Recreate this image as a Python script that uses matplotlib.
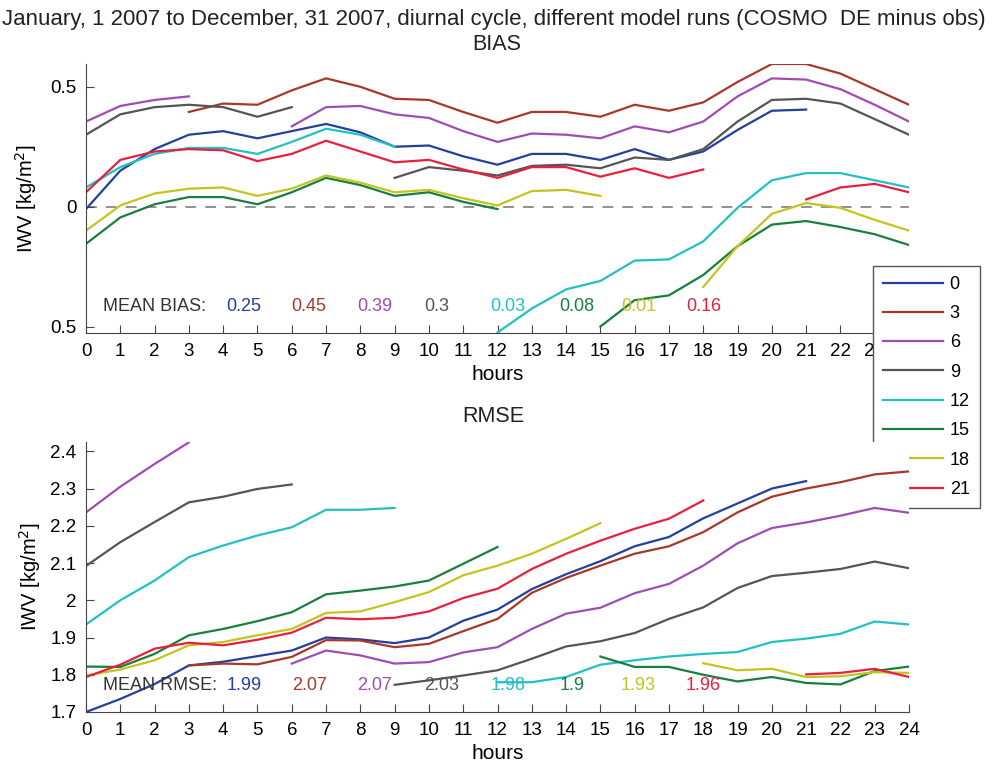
import numpy as np
import matplotlib
matplotlib.use('Agg')
import matplotlib.pyplot as plt

plt.rcParams['font.family'] = ['Liberation Sans', 'DejaVu Sans']

nan = np.nan
hours = list(range(25))
runs = ['0', '3', '6', '9', '12', '15', '18', '21']
colors = ['#22409c', '#a8382a', '#a04cb4', '#555555', '#22c0c4', '#17803f', '#c4c41e', '#e8203c']

# BIAS per model run (COSMO DE minus obs), index = hour
bias_0 = [-0.01, 0.15, 0.24, 0.30, 0.315, 0.285, 0.315, 0.345, 0.31, 0.25, 0.255, 0.21, 0.175, 0.22, 0.22, 0.195, 0.24, 0.195, 0.23, 0.32, 0.40, 0.405, nan, nan, nan]
bias_3 = [nan, nan, nan, 0.395, 0.43, 0.425, 0.485, 0.535, 0.50, 0.45, 0.445, 0.395, 0.35, 0.395, 0.395, 0.375, 0.425, 0.40, 0.435, 0.52, 0.595, 0.595, 0.555, 0.49, 0.425]
bias_6 = [0.355, 0.42, 0.445, 0.46, nan, nan, 0.335, 0.415, 0.42, 0.385, 0.37, 0.315, 0.27, 0.305, 0.30, 0.285, 0.335, 0.31, 0.355, 0.46, 0.535, 0.53, 0.49, 0.425, 0.355]
bias_9 = [0.30, 0.385, 0.415, 0.425, 0.415, 0.375, 0.415, nan, nan, 0.12, 0.165, 0.15, 0.13, 0.17, 0.175, 0.16, 0.205, 0.195, 0.24, 0.355, 0.445, 0.45, 0.43, 0.365, 0.30]
bias_12 = [0.08, 0.165, 0.22, 0.245, 0.245, 0.22, 0.27, 0.325, 0.30, 0.25, nan, nan, -0.525, -0.425, -0.345, -0.31, -0.225, -0.22, -0.145, -0.005, 0.11, 0.14, 0.14, 0.11, 0.08]
bias_15 = [-0.155, -0.045, 0.01, 0.04, 0.04, 0.01, 0.06, 0.12, 0.09, 0.045, 0.06, 0.02, -0.01, nan, nan, -0.50, -0.39, -0.37, -0.285, -0.165, -0.075, -0.06, -0.085, -0.115, -0.16]
bias_18 = [-0.10, 0.005, 0.055, 0.075, 0.08, 0.045, 0.075, 0.13, 0.10, 0.06, 0.07, 0.035, 0.005, 0.065, 0.07, 0.045, nan, nan, -0.335, -0.165, -0.03, 0.015, -0.005, -0.055, -0.10]
bias_21 = [0.06, 0.195, 0.23, 0.24, 0.235, 0.19, 0.22, 0.275, 0.23, 0.185, 0.195, 0.155, 0.12, 0.165, 0.165, 0.125, 0.16, 0.12, 0.155, nan, nan, 0.03, 0.08, 0.095, 0.06]

# RMSE per model run
rmse_0 = [1.70, 1.735, 1.775, 1.825, 1.835, 1.85, 1.865, 1.90, 1.895, 1.885, 1.90, 1.945, 1.975, 2.03, 2.07, 2.105, 2.145, 2.17, 2.22, 2.26, 2.30, 2.32, nan, nan, nan]
rmse_3 = [nan, nan, nan, 1.825, 1.83, 1.828, 1.848, 1.893, 1.892, 1.874, 1.883, 1.917, 1.95, 2.02, 2.06, 2.093, 2.125, 2.145, 2.183, 2.236, 2.278, 2.30, 2.317, 2.338, 2.346]
rmse_6 = [2.236, 2.305, 2.366, 2.424, nan, nan, 1.83, 1.865, 1.852, 1.83, 1.834, 1.86, 1.874, 1.923, 1.964, 1.98, 2.019, 2.044, 2.093, 2.153, 2.194, 2.209, 2.227, 2.248, 2.235]
rmse_9 = [2.092, 2.156, 2.21, 2.263, 2.278, 2.299, 2.311, nan, nan, 1.773, 1.785, 1.798, 1.812, 1.843, 1.876, 1.89, 1.912, 1.95, 1.981, 2.033, 2.065, 2.074, 2.084, 2.104, 2.086]
rmse_12 = [1.935, 2.0, 2.053, 2.116, 2.147, 2.174, 2.196, 2.243, 2.243, 2.248, nan, nan, 1.78, 1.78, 1.794, 1.827, 1.839, 1.849, 1.856, 1.861, 1.888, 1.897, 1.91, 1.943, 1.935]
rmse_15 = [1.822, 1.821, 1.856, 1.906, 1.923, 1.944, 1.968, 2.016, 2.026, 2.037, 2.053, 2.098, 2.143, nan, nan, 1.849, 1.821, 1.821, 1.80, 1.782, 1.794, 1.778, 1.774, 1.81, 1.822]
rmse_18 = [1.798, 1.814, 1.839, 1.879, 1.888, 1.906, 1.923, 1.966, 1.97, 1.995, 2.022, 2.067, 2.093, 2.125, 2.165, 2.207, nan, nan, 1.831, 1.812, 1.816, 1.794, 1.796, 1.807, 1.805]
rmse_21 = [1.794, 1.827, 1.87, 1.886, 1.879, 1.894, 1.913, 1.953, 1.949, 1.953, 1.97, 2.006, 2.031, 2.084, 2.125, 2.16, 2.192, 2.219, 2.268, nan, nan, 1.801, 1.805, 1.816, 1.794]

mean_bias = ['0.25', '0.45', '0.39', '0.3', '0.03', '0.08', '0.01', '0.16']
mean_rmse = ['1.99', '2.07', '2.07', '2.03', '1.98', '1.9', '1.93', '1.96']

bias = [bias_0, bias_3, bias_6, bias_9, bias_12, bias_15, bias_18, bias_21]
rmse = [rmse_0, rmse_3, rmse_6, rmse_9, rmse_12, rmse_15, rmse_18, rmse_21]

# where the mean values are written (hours)
txt_x = [4.1, 6.0, 7.9, 9.85, 11.8, 13.8, 15.6, 17.5]

W, H = 993, 762
fig = plt.figure(figsize=(W / 100, H / 100), dpi=100)
ax1 = fig.add_axes([86 / W, 1 - 333 / H, 823 / W, 269 / H])
ax2 = fig.add_axes([86 / W, 1 - 712 / H, 823 / W, 270 / H])
# legend sits between the two panels: over the upper one, under the lower one
ax1.set_zorder(1)
ax2.set_zorder(3)

spine_c = '#444444'
fs = 13

for ax in (ax1, ax2):
    ax.spines['top'].set_visible(False)
    ax.spines['right'].set_visible(False)
    ax.spines['left'].set_color(spine_c)
    ax.spines['bottom'].set_color(spine_c)
    ax.tick_params(direction='in', length=6, color=spine_c, labelsize=13.5, pad=7)
    ax.set_xlim(0, 24)
    ax.set_xticks(hours)
    ax.set_xlabel('hours', fontsize=15, labelpad=4)

ax1.set_ylabel('IWV [kg/m$^2$]', fontsize=14.5, labelpad=8)
ax2.set_ylabel('IWV [kg/m$^2$]', fontsize=14.5, labelpad=5)

handles = []
for i in range(8):
    h, = ax1.plot(hours, bias[i], color=colors[i], lw=1.6, label=runs[i])
    ax2.plot(hours, rmse[i], color=colors[i], lw=1.6, label=runs[i])
    handles.append(h)

ax1.axhline(0, color='#888888', lw=1.3, ls=(0, (6, 5)), zorder=1)
ax1.set_ylim(-0.527, 0.595)
ax1.set_yticks([-0.5, 0, 0.5])
ax1.set_yticklabels(['0.5', '0', '0.5'])

ax2.set_ylim(1.7, 2.425)
ax2.set_yticks([1.7, 1.8, 1.9, 2.0, 2.1, 2.2, 2.3, 2.4])
ax2.set_yticklabels(['1.7', '1.8', '1.9', '2', '2.1', '2.2', '2.3', '2.4'])

ax1.text(0.5, -0.418, 'MEAN BIAS:', fontsize=fs, color='#333333', va='center')
ax2.text(0.5, 1.772, 'MEAN RMSE:', fontsize=fs, color='#333333', va='center')
for i in range(8):
    ax1.text(txt_x[i], -0.418, mean_bias[i], fontsize=fs, color=colors[i], va='center')
    ax2.text(txt_x[i], 1.772, mean_rmse[i], fontsize=fs, color=colors[i], va='center')

fig.text(0.497, 1 - 20 / H, 'January, 1 2007 to December, 31 2007, diurnal cycle, different model runs (COSMO  DE minus obs)',
         ha='center', va='center', fontsize=16, color='#222222')
fig.text(0.5, 1 - 45 / H, 'BIAS', ha='center', va='center', fontsize=15.5, color='#222222')
fig.text(0.497, 1 - 417 / H, 'RMSE', ha='center', va='center', fontsize=15.5, color='#222222')

leg = fig.legend(handles, runs, loc='upper left', bbox_to_anchor=(873 / W, 1 - 266 / H),
                 fontsize=fs, frameon=True, fancybox=False, framealpha=1, edgecolor='#555555',
                 handlelength=3.3, handletextpad=0.4, labelspacing=0.68, borderpad=0.55, borderaxespad=0)
leg.get_frame().set_linewidth(1.0)
leg.set_zorder(2)

fig.savefig('out.png', dpi=100)
